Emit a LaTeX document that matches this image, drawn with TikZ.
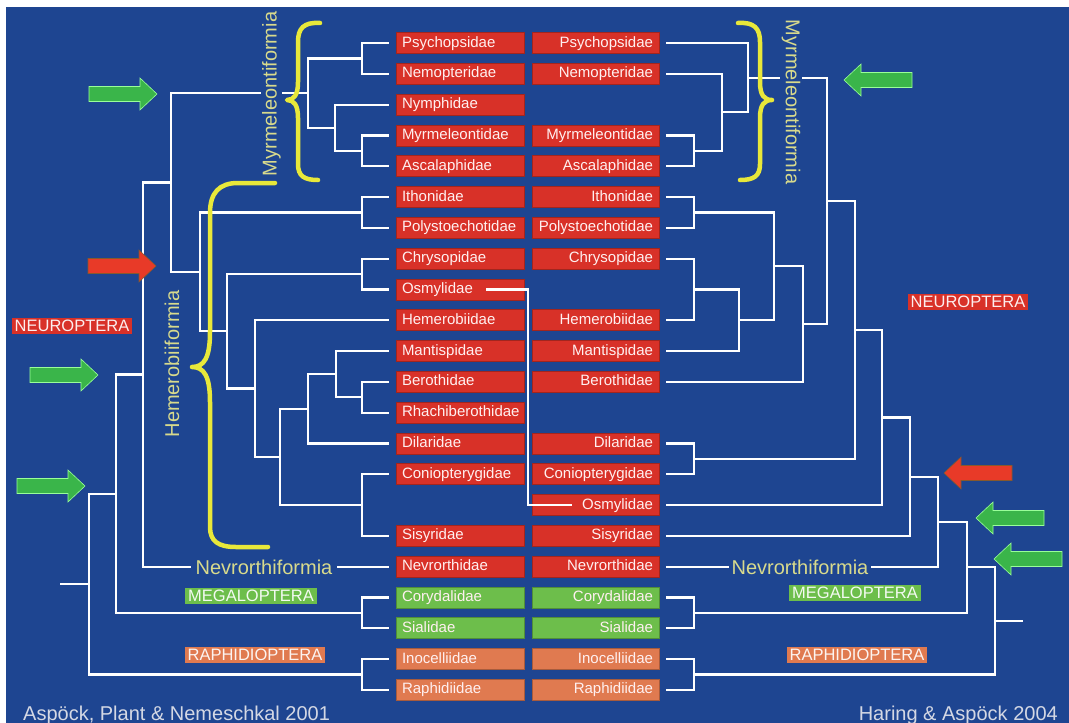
\documentclass[tikz,border=0pt]{standalone}
\usepackage{fontspec}
\setmainfont{Liberation Sans}
\usetikzlibrary{calc}
\definecolor{bg}{HTML}{1E4591}
\definecolor{boxred}{HTML}{D83128}
\definecolor{boxgreen}{HTML}{6DBE4B}
\definecolor{boxorange}{HTML}{E07A50}
\definecolor{braceyellow}{HTML}{E8E83A}
\definecolor{labelyellow}{HTML}{D8DA8C}
\definecolor{arrgreen}{HTML}{3AB54A}
\definecolor{arrred}{HTML}{E83A28}
\definecolor{titlegray}{HTML}{D4D8E4}
\begin{document}
\begin{tikzpicture}[x=1pt,y=-1pt,
  box/.style={minimum height=21pt, inner xsep=6pt, inner ysep=0pt,
    font=\fontsize{15}{17}\selectfont, text=white!94!red, fill=#1, draw=#1!75!black,
    line width=0.5pt, text height=11pt, text depth=3pt},
  lbox/.style={box=#1, text width=116pt, align=left},
  rbox/.style={box=#1, text width=115pt, align=right},
  br/.style={draw=white, line width=2.2pt},
  clade/.style={font=\fontsize{20}{22}\selectfont, text=labelyellow, inner sep=1.5pt},
  group/.style={font=\fontsize{16.5}{18}\selectfont, fill=#1, text=white!92!#1,
    inner xsep=3pt, inner ysep=2.2pt, text height=11.8pt, text depth=0pt},
  bracestyle/.style={draw=braceyellow, line width=4.5pt, line cap=round, line join=round},
  title/.style={font=\fontsize{20}{22}\selectfont, text=titlegray, inner sep=0pt},
  greenarr/.style={fill=arrgreen, draw=green!40!white, line width=0.6pt},
  redarr/.style={fill=arrred, draw=brown!70!black, line width=0.6pt},
  pics/arrR/.style={code={\path[#1] (0,-7.5) -- (51,-7.5) -- (51,-16) -- (68,0) -- (51,16) -- (51,7.5) -- (0,7.5) -- cycle;}},
  pics/arrL/.style={code={\path[#1] (0,-7.5) -- (-51,-7.5) -- (-51,-16) -- (-68,0) -- (-51,16) -- (-51,7.5) -- (0,7.5) -- cycle;}}
]
\fill[white] (0,0) rectangle (1069,723);
\fill[bg] (6,7) rectangle (1069,723);
\useasboundingbox (0,0) rectangle (1069,723);

% ---- left column ----
\node[lbox=boxred] (L0) at (460,43) {Psychopsidae};
\node[lbox=boxred] (L1) at (460,73.8) {Nemopteridae};
\node[lbox=boxred] (L2) at (460,104.6) {Nymphidae};
\node[lbox=boxred] (L3) at (460,135.4) {Myrmeleontidae};
\node[lbox=boxred] (L4) at (460,166.2) {Ascalaphidae};
\node[lbox=boxred] (L5) at (460,197) {Ithonidae};
\node[lbox=boxred] (L6) at (460,227.8) {Polystoechotidae};
\node[lbox=boxred] (L7) at (460,258.6) {Chrysopidae};
\node[lbox=boxred] (L8) at (460,289.4) {Osmylidae};
\node[lbox=boxred] (L9) at (460,320.2) {Hemerobiidae};
\node[lbox=boxred] (L10) at (460,351) {Mantispidae};
\node[lbox=boxred] (L11) at (460,381.8) {Berothidae};
\node[lbox=boxred] (L12) at (460,412.6) {Rhachiberothidae};
\node[lbox=boxred] (L13) at (460,443.4) {Dilaridae};
\node[lbox=boxred] (L14) at (460,474.2) {Coniopterygidae};
\node[lbox=boxred] (L16) at (460,535.8) {Sisyridae};
\node[lbox=boxred] (L17) at (460,566.6) {Nevrorthidae};
\node[lbox=boxgreen] (L18) at (460,597.4) {Corydalidae};
\node[lbox=boxgreen] (L19) at (460,628.2) {Sialidae};
\node[lbox=boxorange] (L20) at (460,659) {Inocelliidae};
\node[lbox=boxorange] (L21) at (460,689.8) {Raphidiidae};

% ---- right column ----
\node[rbox=boxred] (R0) at (595.5,43) {Psychopsidae};
\node[rbox=boxred] (R1) at (595.5,73.8) {Nemopteridae};
\node[rbox=boxred] (R3) at (595.5,135.4) {Myrmeleontidae};
\node[rbox=boxred] (R4) at (595.5,166.2) {Ascalaphidae};
\node[rbox=boxred] (R5) at (595.5,197) {Ithonidae};
\node[rbox=boxred] (R6) at (595.5,227.8) {Polystoechotidae};
\node[rbox=boxred] (R7) at (595.5,258.6) {Chrysopidae};
\node[rbox=boxred] (R9) at (595.5,320.2) {Hemerobiidae};
\node[rbox=boxred] (R10) at (595.5,351) {Mantispidae};
\node[rbox=boxred] (R11) at (595.5,381.8) {Berothidae};
\node[rbox=boxred] (R13) at (595.5,443.4) {Dilaridae};
\node[rbox=boxred] (R14) at (595.5,474.2) {Coniopterygidae};
\node[rbox=boxred] (R15) at (595.5,505) {Osmylidae};
\node[rbox=boxred] (R16) at (595.5,535.8) {Sisyridae};
\node[rbox=boxred] (R17) at (595.5,566.6) {Nevrorthidae};
\node[rbox=boxgreen] (R18) at (595.5,597.4) {Corydalidae};
\node[rbox=boxgreen] (R19) at (595.5,628.2) {Sialidae};
\node[rbox=boxorange] (R20) at (595.5,659) {Inocelliidae};
\node[rbox=boxorange] (R21) at (595.5,689.8) {Raphidiidae};

% leaf connection points
\foreach \i in {0,1,2,3,4,5,6,7,8,9,10,11,12,13,14,16,17,18,19,20,21}
  {\coordinate (lL\i) at ([xshift=-7pt]L\i.west);}
\foreach \i in {0,1,3,4,5,6,7,9,10,11,13,14,15,16,17,18,19,20,21}
  {\coordinate (rR\i) at ([xshift=7pt]R\i.east);}

% ---- left tree (Aspoeck, Plant & Nemeschkal 2001) ----
\coordinate (a1) at (362,58.4);
\coordinate (a2) at (362,150.8);
\coordinate (a3) at (335,127.7);
\coordinate (a4) at (308,93);
\coordinate (a5) at (362,212.4);
\coordinate (a6) at (362,274);
\coordinate (a7) at (362,397.2);
\coordinate (a8) at (336,374.1);
\coordinate (a9) at (308,408.7);
\coordinate (a10) at (362,505);
\coordinate (a11) at (280,456.9);
\coordinate (a12) at (255,388.5);
\coordinate (a13) at (227,331.3);
\coordinate (a14) at (200,271.8);
\coordinate (a15) at (171,182.4);
\coordinate (a16) at (143,374.5);
\coordinate (a17) at (362,612.8);
\coordinate (a18) at (116,493.7);
\coordinate (a19) at (362,674.4);
\coordinate (a20) at (89,584);
\coordinate (rootL) at (60,584);

\draw[br] (a1) |- (lL0);  \draw[br] (a1) |- (lL1);
\draw[br] (a2) |- (lL3);  \draw[br] (a2) |- (lL4);
\draw[br] (a3) |- (lL2);  \draw[br] (a3) |- (a2);
\draw[br] (a4) |- (a1);   \draw[br] (a4) |- (a3);
\draw[br] (a5) |- (lL5);  \draw[br] (a5) |- (lL6);
\draw[br] (a6) |- (lL7);  \draw[br] (a6) |- (lL8);
\draw[br] (a7) |- (lL11); \draw[br] (a7) |- (lL12);
\draw[br] (a8) |- (lL10); \draw[br] (a8) |- (a7);
\draw[br] (a9) |- (a8);   \draw[br] (a9) |- (lL13);
\draw[br] (a10) |- (lL14); \draw[br] (a10) |- (lL16);
\draw[br] (a11) |- (a9);  \draw[br] (a11) |- (a10);
\draw[br] (a12) |- (lL9); \draw[br] (a12) |- (a11);
\draw[br] (a13) |- (a6);  \draw[br] (a13) |- (a12);
\draw[br] (a14) |- (a5);  \draw[br] (a14) |- (a13);
\draw[br] (a15) |- (a4);  \draw[br] (a15) |- (a14);
\draw[br] (a16) |- (a15); \draw[br] (a16) |- (lL17);
\draw[br] (a17) |- (lL18); \draw[br] (a17) |- (lL19);
\draw[br] (a18) |- (a16); \draw[br] (a18) |- (a17);
\draw[br] (a19) |- (lL20); \draw[br] (a19) |- (lL21);
\draw[br] (a20) |- (a18); \draw[br] (a20) |- (a19);
\draw[br] (rootL) -- (a20);

% ---- right tree (Haring & Aspoeck 2004) ----
\coordinate (b1) at (694,150.8);
\coordinate (b2) at (722,112.3);
\coordinate (b3) at (748,77.7);
\coordinate (b4) at (694,212.4);
\coordinate (b5) at (694,289.4);
\coordinate (b6) at (739,320.2);
\coordinate (b7) at (774,266.3);
\coordinate (b8) at (803,324);
\coordinate (b9) at (827,200.9);
\coordinate (b10) at (694,458.8);
\coordinate (b11) at (855,329.9);
\coordinate (b12) at (882,417.4);
\coordinate (b13) at (910,476.6);
\coordinate (b14) at (938,521.6);
\coordinate (b15) at (694,612.8);
\coordinate (b16) at (967,567.2);
\coordinate (b17) at (694,674.4);
\coordinate (b18) at (995,620.8);
\coordinate (rootR) at (1023,620.8);

\draw[br] (b1) |- (rR3);  \draw[br] (b1) |- (rR4);
\draw[br] (b2) |- (rR1);  \draw[br] (b2) |- (b1);
\draw[br] (b3) |- (rR0);  \draw[br] (b3) |- (b2);
\draw[br] (b4) |- (rR5);  \draw[br] (b4) |- (rR6);
\draw[br] (b5) |- (rR7);  \draw[br] (b5) |- (rR9);
\draw[br] (b6) |- (b5);   \draw[br] (b6) |- (rR10);
\draw[br] (b7) |- (b4);   \draw[br] (b7) |- (b6);
\draw[br] (b8) |- (b7);   \draw[br] (b8) |- (rR11);
\draw[br] (b9) |- (b3);   \draw[br] (b9) |- (b8);
\draw[br] (b10) |- (rR13); \draw[br] (b10) |- (rR14);
\draw[br] (b11) |- (b9);  \draw[br] (b11) |- (b10);
\draw[br] (b12) |- (b11); \draw[br] (b12) |- (rR15);
\draw[br] (b13) |- (b12); \draw[br] (b13) |- (rR16);
\draw[br] (b14) |- (b13); \draw[br] (b14) |- (rR17);
\draw[br] (b15) |- (rR18); \draw[br] (b15) |- (rR19);
\draw[br] (b16) |- (b14); \draw[br] (b16) |- (b15);
\draw[br] (b17) |- (rR20); \draw[br] (b17) |- (rR21);
\draw[br] (b18) |- (b16); \draw[br] (b18) |- (b17);
\draw[br] (b18) -- (rootR);

% Osmylidae shift between the two trees
\draw[br] ([xshift=-38pt]L8.east) -- ([xshift=3.5pt]L8.east) |- ([xshift=40pt]R15.west);

% ---- clade labels ----
\node[clade, rotate=90, fill=bg] (myrL) at (271.5,94) {Myrmeleontiformia};
\node[clade, rotate=-90, fill=bg] (myrR) at (791,102) {Myrmeleontiformia};
\node[clade, rotate=90] (hem) at (172,364) {Hemerobiiformia};
\node[clade, fill=bg, inner xsep=5pt] (nevL) at (264,567) {Nevrorthiformia};
\node[clade, fill=bg, inner xsep=3pt] (nevR) at (800,567) {Nevrorthiformia};

% ---- braces ----
\draw[bracestyle] (320,23) .. controls (304,22) and (298,28) .. (298,42) -- (298,82)
  .. controls (298,95) and (294,100) .. (287,100) .. controls (294,100) and (298,105) .. (298,118)
  -- (298,164) .. controls (298,176) and (304,180) .. (318,180);
\draw[bracestyle] (738,23) .. controls (754,22) and (760,28) .. (760,42) -- (760,82)
  .. controls (760,95) and (764,100) .. (772,100) .. controls (764,100) and (760,105) .. (760,118)
  -- (760,164) .. controls (760,176) and (754,180) .. (740,180);
\draw[bracestyle] (275,183) -- (238,183) .. controls (219,183) and (210,193) .. (210,213)
  -- (210,332) .. controls (210,358) and (204,367) .. (192,367)
  .. controls (204,367) and (210,376) .. (210,402)
  -- (210,527) .. controls (210,541) and (218,547) .. (236,547) -- (268,547);

% ---- arrows ----
\pic at (89,94) {arrR=greenarr};
\pic at (88,266) {arrR=redarr};
\pic at (30,375) {arrR=greenarr};
\pic at (17,486) {arrR=greenarr};
\pic at (912,80) {arrL=greenarr};
\pic at (1012,473) {arrL=redarr};
\pic at (1044,518) {arrL=greenarr};
\pic at (1062,559) {arrL=greenarr};

% ---- group labels ----
\node[group=boxred] (neuL) at (72,326) {NEUROPTERA};
\node[group=boxred] (neuR) at (968,302) {NEUROPTERA};
\node[group=boxgreen] (megL) at (251,596) {MEGALOPTERA};
\node[group=boxgreen] (megR) at (855,593) {MEGALOPTERA};
\node[group=boxorange] (rapL) at (255,655) {RAPHIDIOPTERA};
\node[group=boxorange] (rapR) at (857,655) {RAPHIDIOPTERA};

% ---- titles ----
\node[title, anchor=base west] (tL) at (23,720) {Aspöck, Plant \& Nemeschkal 2001};
\node[title, anchor=base east] (tR) at (1058,720) {Haring \& Aspöck 2004};
\end{tikzpicture}
\end{document}
